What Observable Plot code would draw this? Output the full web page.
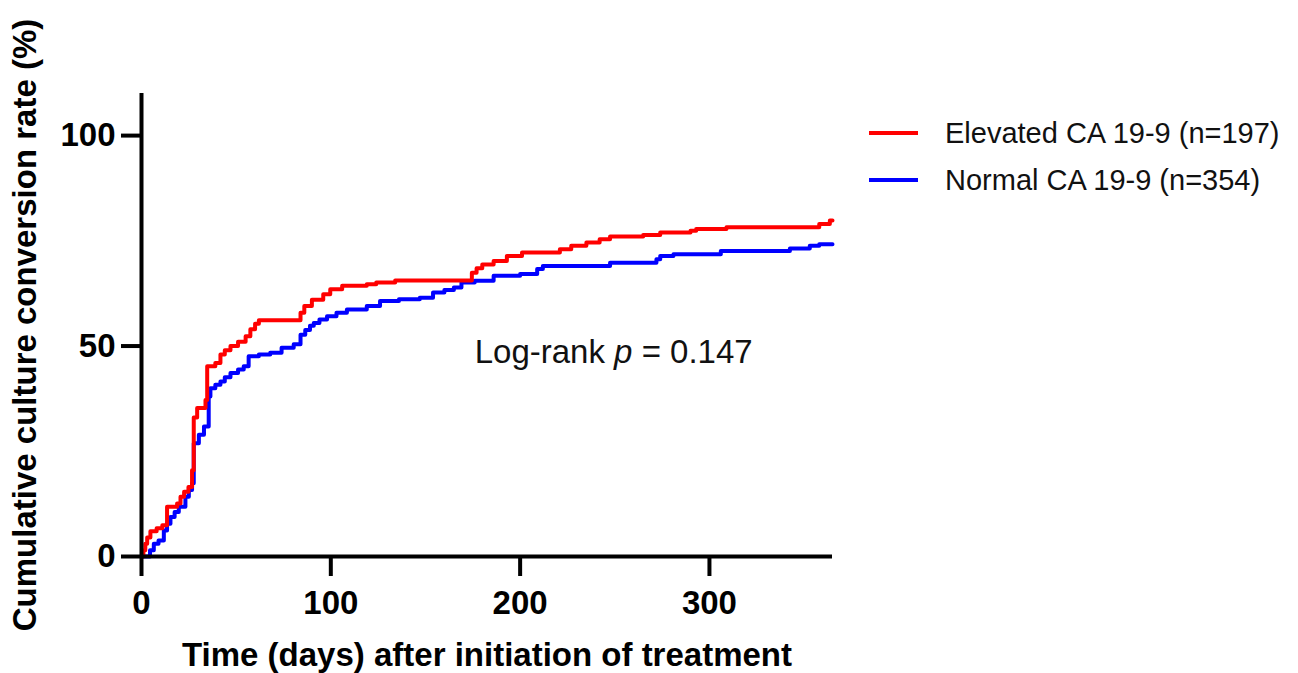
<!DOCTYPE html>
<html>
<head>
<meta charset="utf-8">
<script src="https://cdn.jsdelivr.net/npm/d3@7"></script>
<script src="https://cdn.jsdelivr.net/npm/@observablehq/plot@0.6"></script>
<style>
  html, body { margin: 0; padding: 0; background: #fff; }
  #wrap { position: relative; width: 1298px; height: 673px; font-family: "Liberation Sans", Arial, sans-serif; }
  .leg { position: absolute; left: 869px; display: flex; align-items: center; }
  .sw { width: 49px; height: 4px; margin-right: 27px; }
  .lt { font-size: 29px; color: #111; white-space: nowrap; }
</style>
</head>
<body>
<div id="wrap"></div>
<script>
// ---- data ----
const groups = ["Elevated CA 19-9 (n=197)", "Normal CA 19-9 (n=354)"];
const colors = ["#ff0000", "#0000ff"];

const elevatedDays = [0, 1, 2, 3, 4.7, 8, 11, 13.5, 18.8, 20.6, 22.5, 24.8, 26.7, 27.6, 29.4, 33.8, 34.7, 39, 41.7, 44, 47, 51, 55, 57.5, 60, 62, 84, 86, 90, 96, 99.7, 106, 119, 124, 134, 174.5, 177, 180, 186, 193, 201, 221, 227, 235, 242, 247.5, 265, 274, 290, 293, 309, 358, 363.6, 365];
const elevatedPct  = [0, 1.5, 3, 4.5, 6, 6.7, 7.4, 11.8, 12.6, 14.2, 15.4, 16.5, 20.5, 33, 35.3, 37.2, 45.2, 46, 48, 49, 50, 51, 52.3, 54, 55.3, 56.1, 57.9, 59.5, 61, 62.3, 63.5, 64.3, 64.7, 65.1, 65.6, 67.4, 68.5, 69.4, 70.2, 71.4, 72.2, 73, 73.8, 74.6, 75.4, 76, 76.4, 77, 77.4, 77.8, 78.2, 79, 79.8, 79.8];

const normalDays = [0, 3, 4.5, 6.5, 9, 11.8, 13.5, 15.3, 17.5, 19.7, 23.2, 25, 26.7, 27.6, 30.3, 33, 35.5, 36.4, 39, 41.7, 44, 47, 51, 54, 56.6, 62, 68, 74, 80.4, 84, 86.5, 89, 91, 94, 98, 103, 108.5, 119, 126, 136, 147, 154, 160, 165, 169, 176, 186, 200, 209, 212, 247.5, 272, 274, 281, 306, 342.5, 353, 358, 365];
const normalPct  = [0, 0, 1.5, 3, 3.8, 6.2, 7.8, 9.4, 10.6, 11.8, 14.2, 15.8, 17.4, 26.9, 28.9, 30.9, 38, 40, 40.8, 41.6, 42.6, 43.6, 44.4, 45.2, 47.6, 48, 48.4, 49.6, 50.4, 52.7, 53.8, 54.8, 55.5, 56.3, 57.1, 57.9, 58.7, 59.5, 60.7, 61.1, 61.5, 62.7, 63.3, 63.9, 65.1, 65.5, 66.7, 67.1, 68.3, 69, 69.8, 70.6, 71.4, 71.8, 72.6, 73.2, 73.8, 74.2, 74.2];

const xTicks = [0, 100, 200, 300];
const yTicks = [0, 50, 100];
const xTitle = "Time (days) after initiation of treatment";
const yTitle = "Cumulative culture conversion rate (%)";
const annotation = {day: 176, pct: 48.4, text: "Log-rank p = 0.147"};

const elevated = elevatedDays.map((d, i) => ({day: d, pct: elevatedPct[i], group: groups[0]}));
const normal = normalDays.map((d, i) => ({day: d, pct: normalPct[i], group: groups[1]}));

const chart = Plot.plot({
  width: 1298,
  height: 673,
  marginLeft: 141,
  marginRight: 466,
  marginTop: 93,
  marginBottom: 117,
  style: {fontFamily: "'Liberation Sans', Arial, sans-serif", color: "#000", background: "#fff"},
  x: {domain: [0, 365]},
  y: {domain: [0, 110]},
  color: {domain: groups, range: colors},
  marks: [
    Plot.line(normal, {x: "day", y: "pct", stroke: "group", strokeWidth: 4, curve: "step-after"}),
    Plot.line(elevated, {x: "day", y: "pct", stroke: "group", strokeWidth: 4, curve: "step-after"}),
    Plot.ruleX([0], {stroke: "#000", strokeWidth: 4}),
    Plot.ruleY([0], {stroke: "#000", strokeWidth: 4}),
    Plot.axisX({ticks: xTicks, tickSize: 20, tickPadding: 14, strokeWidth: 4, fontSize: 33, fontWeight: "bold", label: null, tickFormat: d => String(d)}),
    Plot.axisY({ticks: yTicks, tickSize: 20, tickPadding: 6, strokeWidth: 4, fontSize: 33, fontWeight: "bold", label: null, tickFormat: d => String(d)}),
    Plot.text([xTitle], {frameAnchor: "bottom", dy: 99, lineAnchor: "middle", textAnchor: "middle", fontSize: 33, fontWeight: "bold", text: d => d}),
    Plot.text([yTitle], {frameAnchor: "left", dx: -116, rotate: -90, lineAnchor: "middle", textAnchor: "middle", fontSize: 33, fontWeight: "bold", text: d => d}),
    Plot.text([annotation], {x: "day", y: "pct", text: "text", textAnchor: "start", fontSize: 33, fill: "#111"})
  ]
});

// italic "p" in the annotation
d3.select(chart).selectAll("text").filter(function() { return this.textContent === annotation.text; })
  .each(function() {
    const t = d3.select(this);
    t.text(null);
    t.append("tspan").text("Log-rank ");
    t.append("tspan").attr("font-style", "italic").text("p");
    t.append("tspan").text(" = 0.147");
  });

const wrap = document.getElementById("wrap");
wrap.appendChild(chart);

// legend
const legTops = [133, 180];
groups.forEach((g, i) => {
  const row = document.createElement("div");
  row.className = "leg";
  row.style.top = (legTops[i] - 18) + "px";
  row.style.height = "36px";
  const sw = document.createElement("div");
  sw.className = "sw";
  sw.style.background = colors[i];
  const lt = document.createElement("div");
  lt.className = "lt";
  lt.textContent = g;
  row.appendChild(sw);
  row.appendChild(lt);
  wrap.appendChild(row);
});
</script>
</body>
</html>
